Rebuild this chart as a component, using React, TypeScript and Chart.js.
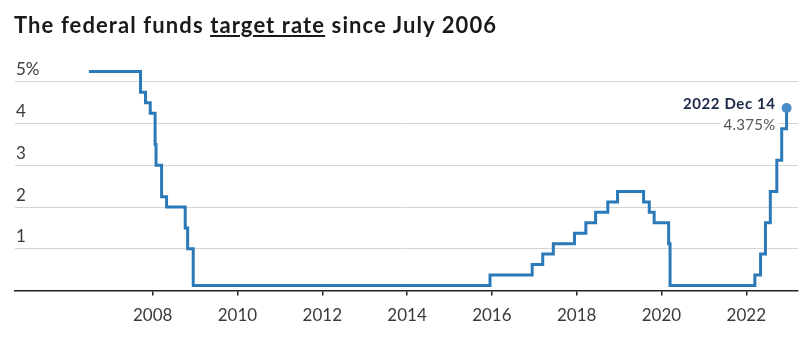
import React, { useEffect, useRef } from "react";
import { Chart, registerables } from "chart.js";

Chart.register(...registerables);

// Dates on which the target (or midpoint of the target range) changed
const changeDates = [
  "2006-07-01", "2007-09-18", "2007-10-31", "2007-12-11", "2008-01-22",
  "2008-01-30", "2008-03-18", "2008-04-30", "2008-10-08", "2008-10-29",
  "2008-12-16", "2015-12-16", "2016-12-14", "2017-03-15", "2017-06-14",
  "2017-12-13", "2018-03-21", "2018-06-13", "2018-09-26", "2018-12-19",
  "2019-07-31", "2019-09-18", "2019-10-30", "2020-03-03", "2020-03-15",
  "2022-03-16", "2022-05-04", "2022-06-15", "2022-07-27", "2022-09-21",
  "2022-11-02", "2022-12-14",
];
const targetRates = [
  5.25, 4.75, 4.5, 4.25, 3.5,
  3.0, 2.25, 2.0, 1.5, 1.0,
  0.125, 0.375, 0.625, 0.875, 1.125,
  1.375, 1.625, 1.875, 2.125, 2.375,
  2.125, 1.875, 1.625, 1.125, 0.125,
  0.375, 0.875, 1.625, 2.375, 3.125,
  3.875, 4.375,
];
const xTickYears = [2008, 2010, 2012, 2014, 2016, 2018, 2020, 2022];
const yTickValues = [0, 1, 2, 3, 4, 5];
const endLabelDate = "2022 Dec 14";
const endLabelValue = "4.375%";
const titleBefore = "The federal funds ";
const titleUnderlined = "target rate";
const titleAfter = " since July 2006";

function toDecimalYear(s: string): number {
  const [y, m, d] = s.split("-").map(Number);
  const start = Date.UTC(y, 0, 1);
  const end = Date.UTC(y + 1, 0, 1);
  const t = Date.UTC(y, m - 1, d);
  return y + (t - start) / (end - start);
}

const FONT = "Lato, 'Open Sans', sans-serif";

export default function App() {
  const ref = useRef<HTMLCanvasElement | null>(null);

  useEffect(() => {
    if (!ref.current) return;
    const points = changeDates.map((d, i) => ({ x: toDecimalYear(d), y: targetRates[i] }));
    const lastIndex = points.length - 1;

    const endLabel = {
      id: "endLabel",
      afterDatasetsDraw(chart: any) {
        const meta = chart.getDatasetMeta(0);
        const pt = meta.data[meta.data.length - 1];
        if (!pt) return;
        const ctx = chart.ctx;
        ctx.save();
        ctx.textAlign = "right";
        ctx.textBaseline = "middle";
        const xr = pt.x - 11;
        ctx.font = `bold 15px ${FONT}`;
        (ctx as any).letterSpacing = "0.6px";
        ctx.fillStyle = "#1b2a47";
        ctx.fillText(endLabelDate, xr, pt.y - 4);
        ctx.font = `15px ${FONT}`;
        (ctx as any).letterSpacing = "0.3px";
        const w = ctx.measureText(endLabelValue).width;
        ctx.fillStyle = "#ffffff";
        ctx.fillRect(xr - w - 3, pt.y + 9, w + 6, 17);
        ctx.fillStyle = "#555555";
        ctx.fillText(endLabelValue, xr, pt.y + 17);
        ctx.restore();
      },
    };

    const chart = new Chart(ref.current, {
      type: "line",
      data: {
        datasets: [
          {
            data: points,
            stepped: true,
            borderColor: "#2a79b9",
            borderWidth: 3,
            fill: false,
            pointRadius: (c: any) => (c.dataIndex === lastIndex ? 5 : 0),
            pointBackgroundColor: "#4a8bc8",
            pointBorderWidth: 0,
            pointHoverRadius: 0,
          },
        ],
      },
      options: {
        animation: false,
        responsive: false,
        maintainAspectRatio: false,
        events: [],
        layout: { padding: { left: 13, right: 7, top: 61, bottom: 16 } },
        plugins: { legend: { display: false }, tooltip: { enabled: false }, title: { display: false } },
        scales: {
          x: {
            type: "linear",
            min: 2004.753,
            max: 2023.22,
            afterBuildTicks: (scale: any) => {
              scale.ticks = xTickYears.map((v) => ({ value: v }));
            },
            ticks: {
              callback: (v: any) => String(v),
              color: "#3a3a3a",
              font: { family: FONT, size: 17 },
              padding: 10,
              maxRotation: 0,
              autoSkip: false,
            },
            grid: {
              drawOnChartArea: false,
              drawTicks: true,
              tickLength: 5,
              color: "#222222",
              lineWidth: 1.5,
            },
            border: { display: true, color: "#222222", width: 1.5 },
          },
          y: {
            type: "linear",
            min: 0,
            max: 5.5,
            afterBuildTicks: (scale: any) => {
              scale.ticks = yTickValues.map((v) => ({ value: v }));
            },
            ticks: {
              mirror: true,
              padding: 1,
              labelOffset: -12,
              color: "#3a3a3a",
              font: { family: FONT, size: 17 },
              callback: (v: any) => (v === 0 ? "" : v === 5 ? "5%" : String(v)),
            },
            grid: {
              drawTicks: false,
              color: (c: any) => (c.tick && c.tick.value === 0 ? "#222222" : "#d4d4d4"),
              lineWidth: 1,
            },
            border: { display: false },
          },
        },
      },
      plugins: [endLabel],
    } as any);

    return () => chart.destroy();
  }, []);

  return (
    <div style={{ position: "fixed", left: 0, top: 0, width: 805, height: 352, background: "#fff" }}>
      <canvas ref={ref} width={805} height={352} style={{ position: "absolute", left: 0, top: 0, width: 805, height: 352 }} />
      <div
        style={{
          position: "absolute",
          left: 14,
          top: 11,
          fontFamily: FONT,
          fontWeight: 700,
          fontSize: 22,
          letterSpacing: "1.1px",
          color: "#1a1a1a",
          whiteSpace: "nowrap",
        }}
      >
        {titleBefore}
        <span style={{ textDecoration: "underline", textDecorationThickness: "2px", textUnderlineOffset: "2px" }}>
          {titleUnderlined}
        </span>
        {titleAfter}
      </div>
    </div>
  );
}
